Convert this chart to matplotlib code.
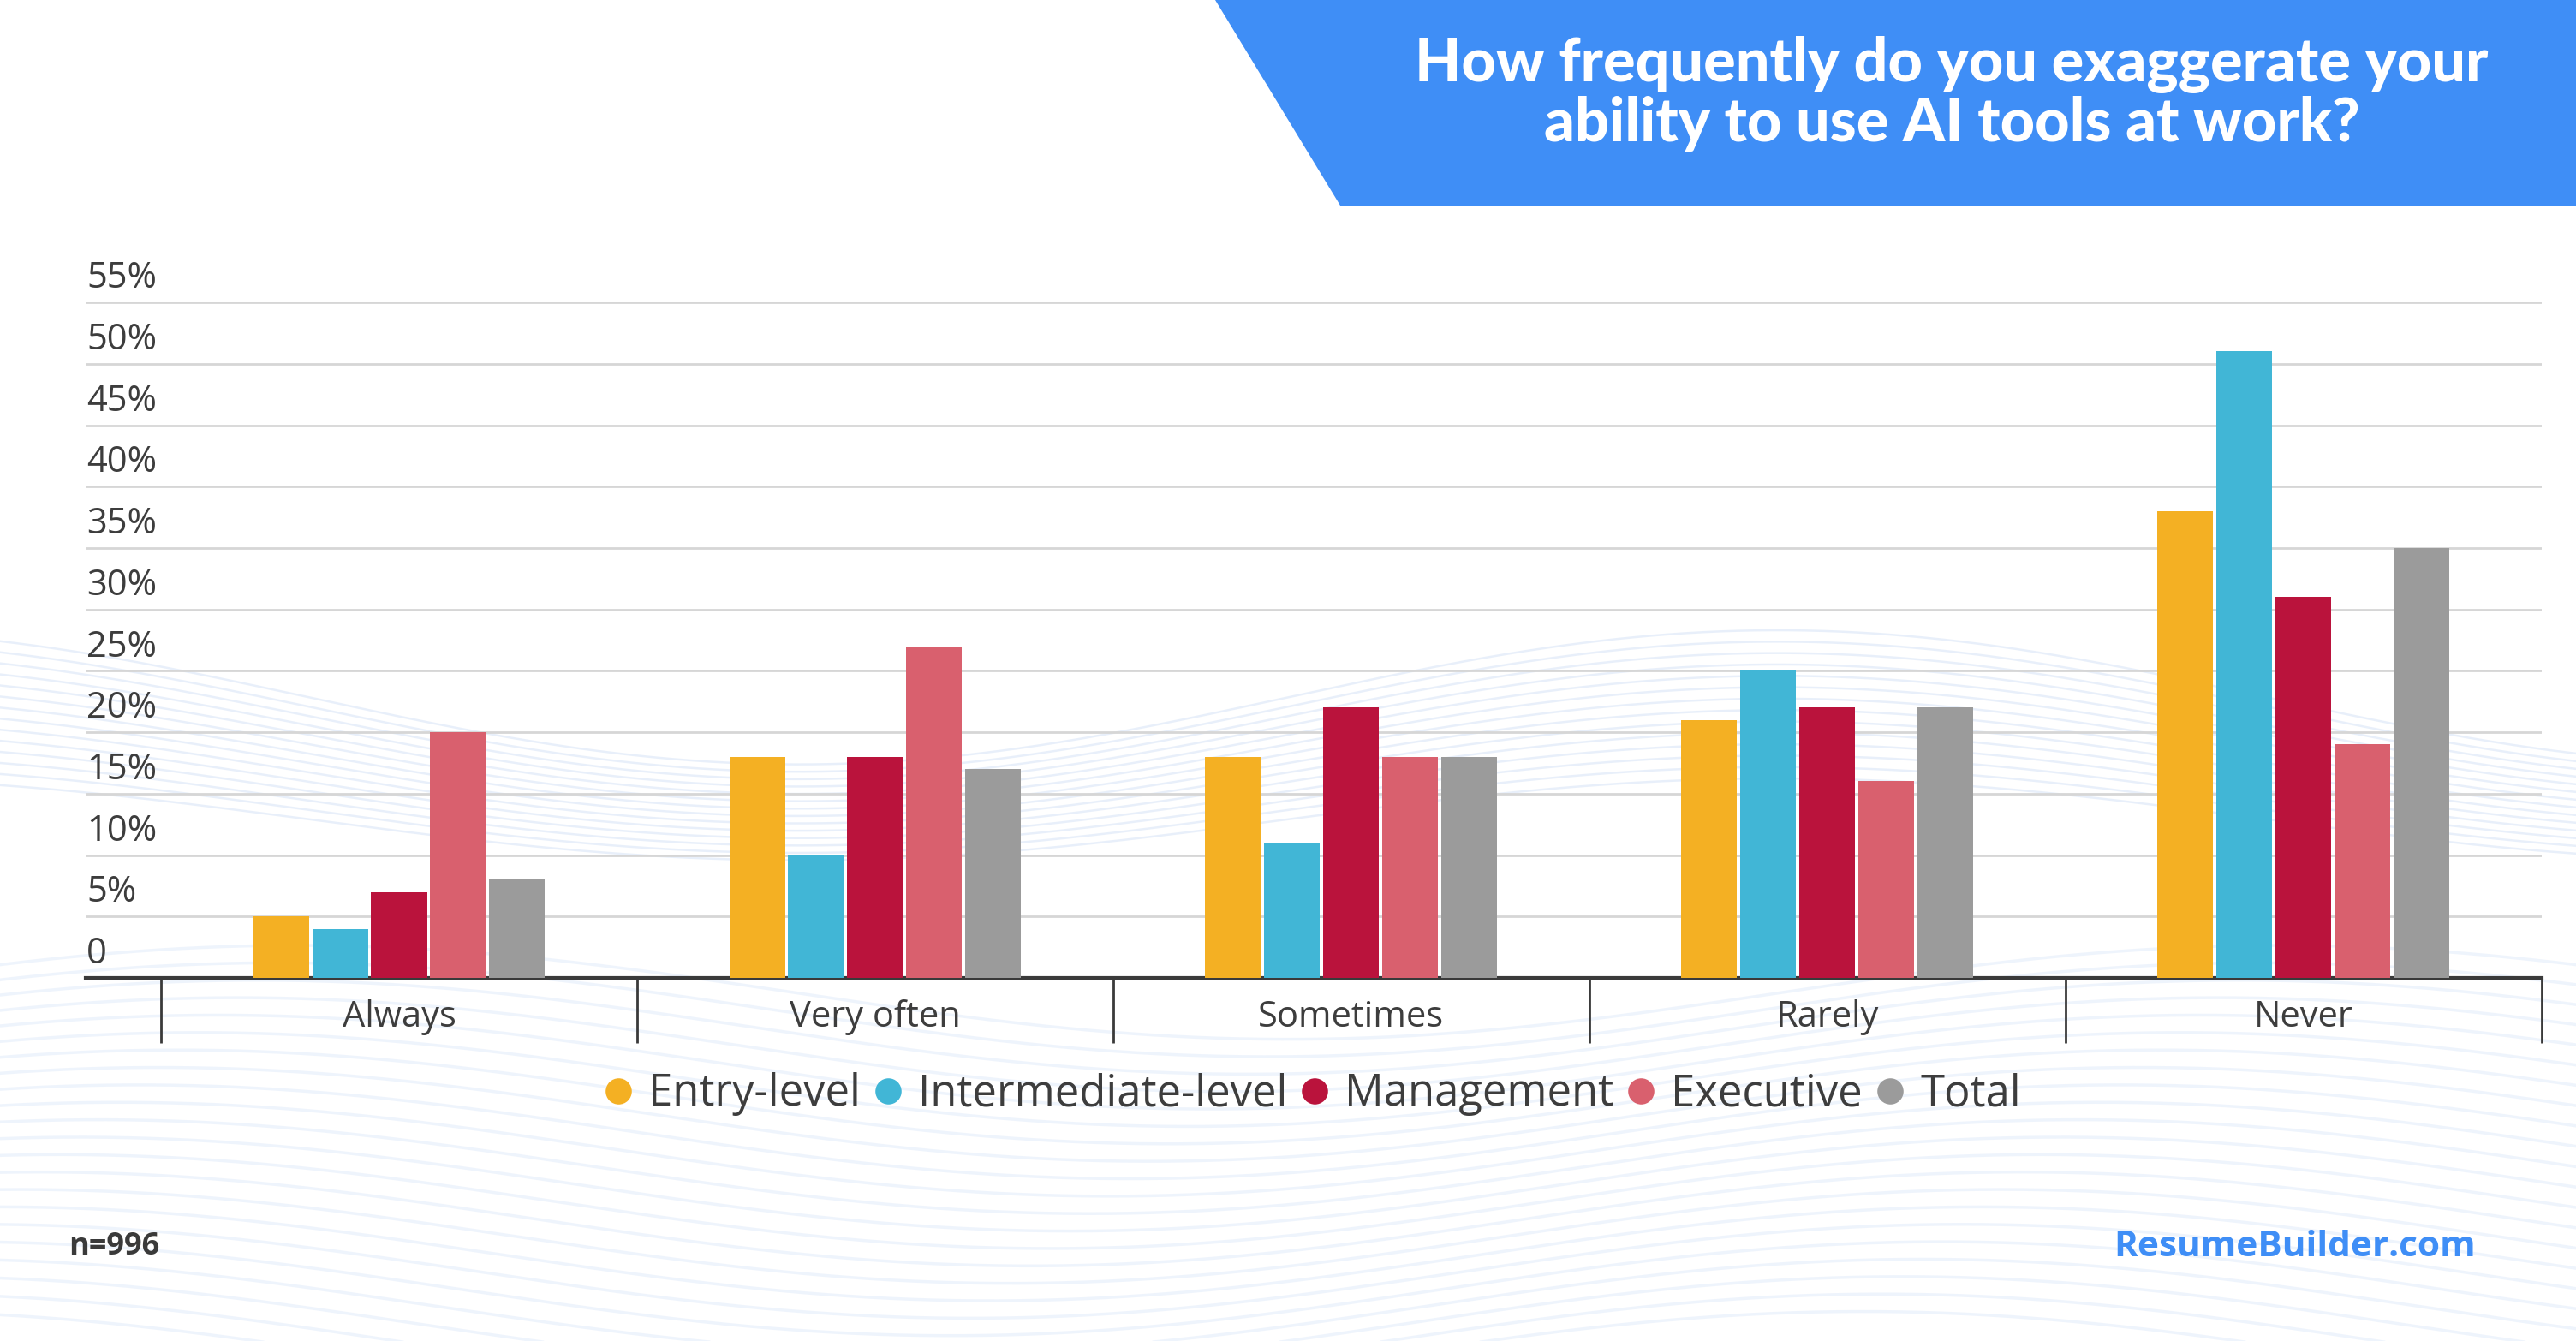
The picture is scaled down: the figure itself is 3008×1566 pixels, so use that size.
import numpy as np
import matplotlib.pyplot as plt
from matplotlib.patches import Polygon
from matplotlib.lines import Line2D

# data
categories = ["Always", "Very often", "Sometimes", "Rarely", "Never"]
series_names = ["Entry-level", "Intermediate-level", "Management", "Executive", "Total"]
entry_level = [5, 18, 18, 21, 38]
intermediate_level = [4, 10, 11, 25, 51]
management = [7, 18, 22, 22, 31]
executive = [20, 27, 18, 16, 19]
total = [8, 17, 18, 22, 35]
colors = ["#F4B023", "#41B6D6", "#BA133C", "#D9606E", "#9B9B9B"]
y_ticks = list(range(0, 60, 5))
y_tick_labels = ["0"] + [f"{v}%" for v in y_ticks[1:]]

plt.rcParams['font.family'] = ['Open Sans', 'DejaVu Sans']

fig = plt.figure(figsize=(30.08, 15.66), dpi=100)
fig.patch.set_facecolor('white')

# faint wavy background
bg = fig.add_axes([0, 0, 1, 1], zorder=0)
bg.set_xlim(0, 1)
bg.set_ylim(0, 1)
bg.axis('off')
xs = np.linspace(0, 1, 600)
for i in range(14):
    yy = 0.48 - i * 0.007 + 0.05 * np.cos(2 * np.pi * (xs - 0.69) / 0.76) * (1 - i * 0.03)
    bg.plot(xs, yy, color='#e3ecf9', lw=1.8, alpha=0.8)
for i in range(22):
    yy = 0.26 - i * 0.013 + 0.035 * np.sin(2 * np.pi * (xs * 1.3 + 0.1 + i * 0.01))
    bg.plot(xs, yy, color='#edf3fc', lw=2.5, alpha=0.9)

# title banner
banner = Polygon([(0.4719, 1.0), (1.0, 1.0), (1.0, 0.8468), (0.5204, 0.8468)],
                 closed=True, facecolor='#3F8EF6', edgecolor='none',
                 transform=fig.transFigure, zorder=2)
fig.patches.append(banner)
fig.text(0.7577, 0.930, "How frequently do you exaggerate your\nability to use AI tools at work?",
         ha='center', va='center', color='white', fontsize=50.5, fontweight=900,
         family=['Lato', 'DejaVu Sans'], linespacing=1.05, zorder=3)

# main chart
ax = fig.add_axes([0.0332, 0.2708, 0.9534, 0.5037], zorder=1)
ax.patch.set_alpha(0)

x = np.arange(len(categories))
values = [entry_level, intermediate_level, management, executive, total]
pitch = 0.124
width = 0.117
for i, (vals, c) in enumerate(zip(values, colors)):
    ax.bar(x + (i - 2) * pitch, vals, width=width, color=c, zorder=3)

ax.set_xlim(-0.6586, 4.5)
ax.set_ylim(0, 55)
ax.set_yticks(y_ticks)
ax.yaxis.grid(True, color='#d6d6d6', lw=2)
ax.set_axisbelow(True)
ax.tick_params(axis='y', length=0, labelleft=False)
for v, lab in zip(y_ticks, y_tick_labels):
    ax.annotate(lab, xy=(0, v), xycoords=('axes fraction', 'data'),
                xytext=(1, 20), textcoords='offset points',
                ha='left', va='center', fontsize=30, color='#3d3d3d')

for s in ['top', 'right', 'left']:
    ax.spines[s].set_visible(False)
ax.spines['bottom'].set_color('#3a3a3a')
ax.spines['bottom'].set_linewidth(3)

ax.set_xticks(x)
ax.set_xticklabels(categories, fontsize=30, color='#3d3d3d')
ax.tick_params(axis='x', which='major', length=0, pad=18)
ax.set_xticks(np.arange(-0.5, 5, 1), minor=True)
ax.tick_params(axis='x', which='minor', length=55, width=2, color='#3a3a3a')

# legend
handles = [Line2D([], [], marker='o', linestyle='none', markersize=22,
                  markerfacecolor=c, markeredgecolor='none') for c in colors]
fig.legend(handles, series_names, loc='center', bbox_to_anchor=(0.508, 0.184),
           ncol=5, frameon=False, fontsize=36.5, handlelength=1.0, handletextpad=0.2,
           columnspacing=0.12, labelcolor='#3d3d3d')

# footer
fig.text(0.0268, 0.070, "n=996", ha='left', va='center', fontsize=26,
         fontweight='bold', color='#3a3a3a')
fig.text(0.961, 0.070, "ResumeBuilder.com", ha='right', va='center', fontsize=30.5,
         fontweight='bold', color='#3F8EF6')

fig.savefig('out.png', dpi=100)
